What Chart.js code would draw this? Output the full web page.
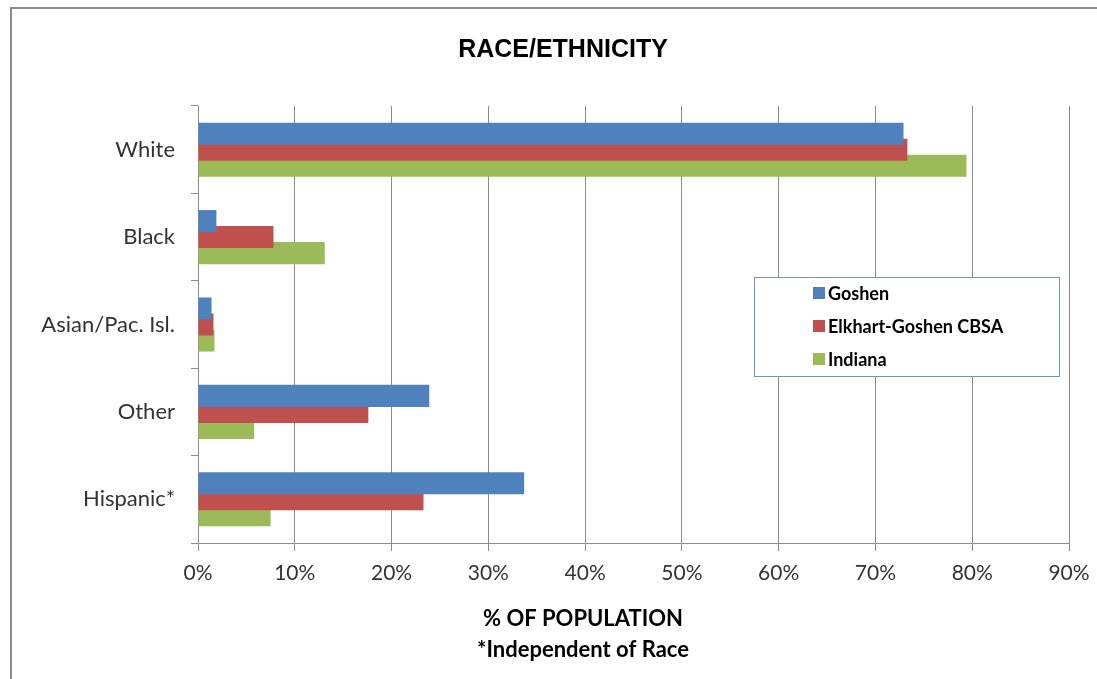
<!DOCTYPE html>
<html>
<head>
<meta charset="utf-8">
<script src="https://cdn.jsdelivr.net/npm/chart.js@4/dist/chart.umd.min.js"></script>
<style>
  body { margin: 0; background: #fff; }
  #frame { position: absolute; left: 10px; top: 7px; width: 1100px; height: 690px; border: 2px solid #8c8c8c; box-sizing: border-box; }
  #wrap { position: absolute; left: 0; top: 0; width: 1097px; height: 679px; }
</style>
</head>
<body>
<div id="frame"></div>
<div id="wrap"><canvas id="raceChart" width="1097" height="679"></canvas></div>
<script>
  // datos
  const categorias = ['White', 'Black', 'Asian/Pac. Isl.', 'Other', 'Hispanic*'];
  const goshen = [72.9, 1.9, 1.4, 23.9, 33.7];
  const elkhart = [73.3, 7.8, 1.6, 17.6, 23.3];
  const indiana = [79.4, 13.1, 1.7, 5.8, 7.5];
  const ticksX = [0, 10, 20, 30, 40, 50, 60, 70, 80, 90];

  // titulo, titulo del eje y leyenda dibujados a mano
  const extras = {
    id: 'extras',
    afterDraw(chart) {
      const ctx = chart.ctx;
      ctx.save();
      ctx.fillStyle = '#000';
      ctx.textAlign = 'center';
      ctx.textBaseline = 'middle';
      ctx.font = 'bold 25px "Liberation Sans", Arial, sans-serif';
      ctx.fillText('RACE/ETHNICITY', 563, 50);

      ctx.font = 'bold 22px Lato, sans-serif';
      ctx.fillText('% OF POPULATION', 583, 619);
      ctx.fillText('*Independent of Race', 583, 650);

      // leyenda
      ctx.fillStyle = '#fff';
      ctx.fillRect(754, 277, 305, 99);
      ctx.strokeStyle = '#6f93c8';
      ctx.lineWidth = 1;
      ctx.strokeRect(754.5, 277.5, 305, 99);
      ctx.textAlign = 'left';
      ctx.font = 'bold 18px Lato, sans-serif';
      chart.data.datasets.forEach((ds, i) => {
        const y = 293 + i * 33;
        ctx.fillStyle = ds.backgroundColor;
        ctx.fillRect(813, y - 6, 12, 12);
        ctx.fillStyle = '#000';
        ctx.fillText(ds.label, 828, y + 1);
      });
      ctx.restore();
    }
  };

  new Chart(document.getElementById('raceChart'), {
    type: 'bar',
    data: {
      labels: categorias,
      datasets: [
        { label: 'Goshen', data: goshen, backgroundColor: '#4F81BD' },
        { label: 'Elkhart-Goshen CBSA', data: elkhart, backgroundColor: '#C0504D' },
        { label: 'Indiana', data: indiana, backgroundColor: '#9BBB59' }
      ]
    },
    options: {
      indexAxis: 'y',
      responsive: false,
      animation: false,
      categoryPercentage: 0.55,
      barPercentage: 1.375,
      layout: { padding: { top: 106, right: 28, left: 0, bottom: 0 } },
      plugins: {
        legend: { display: false },
        title: { display: false },
        tooltip: { enabled: false }
      },
      scales: {
        x: {
          min: 0,
          max: 90,
          afterBuildTicks: (scale) => { scale.ticks = ticksX.map(v => ({ value: v })); },
          afterFit: (scale) => { scale.height = 136; scale.paddingRight = 0; scale.paddingLeft = 0; },
          ticks: {
            callback: (v) => v + '%',
            color: '#333',
            font: { family: 'Lato', size: 21 },
            padding: 10,
            maxRotation: 0
          },
          grid: { color: '#8c8c8c', lineWidth: 1, tickLength: 8 },
          border: { color: '#8c8c8c', width: 1 }
        },
        y: {
          afterFit: (scale) => { scale.width = 198; },
          ticks: {
            color: '#333',
            font: { family: 'Lato', size: 22 },
            padding: 16
          },
          grid: { drawOnChartArea: false, offset: true, color: '#8c8c8c', tickLength: 7 },
          border: { color: '#8c8c8c', width: 1 }
        }
      }
    },
    plugins: [extras]
  });
</script>
</body>
</html>
